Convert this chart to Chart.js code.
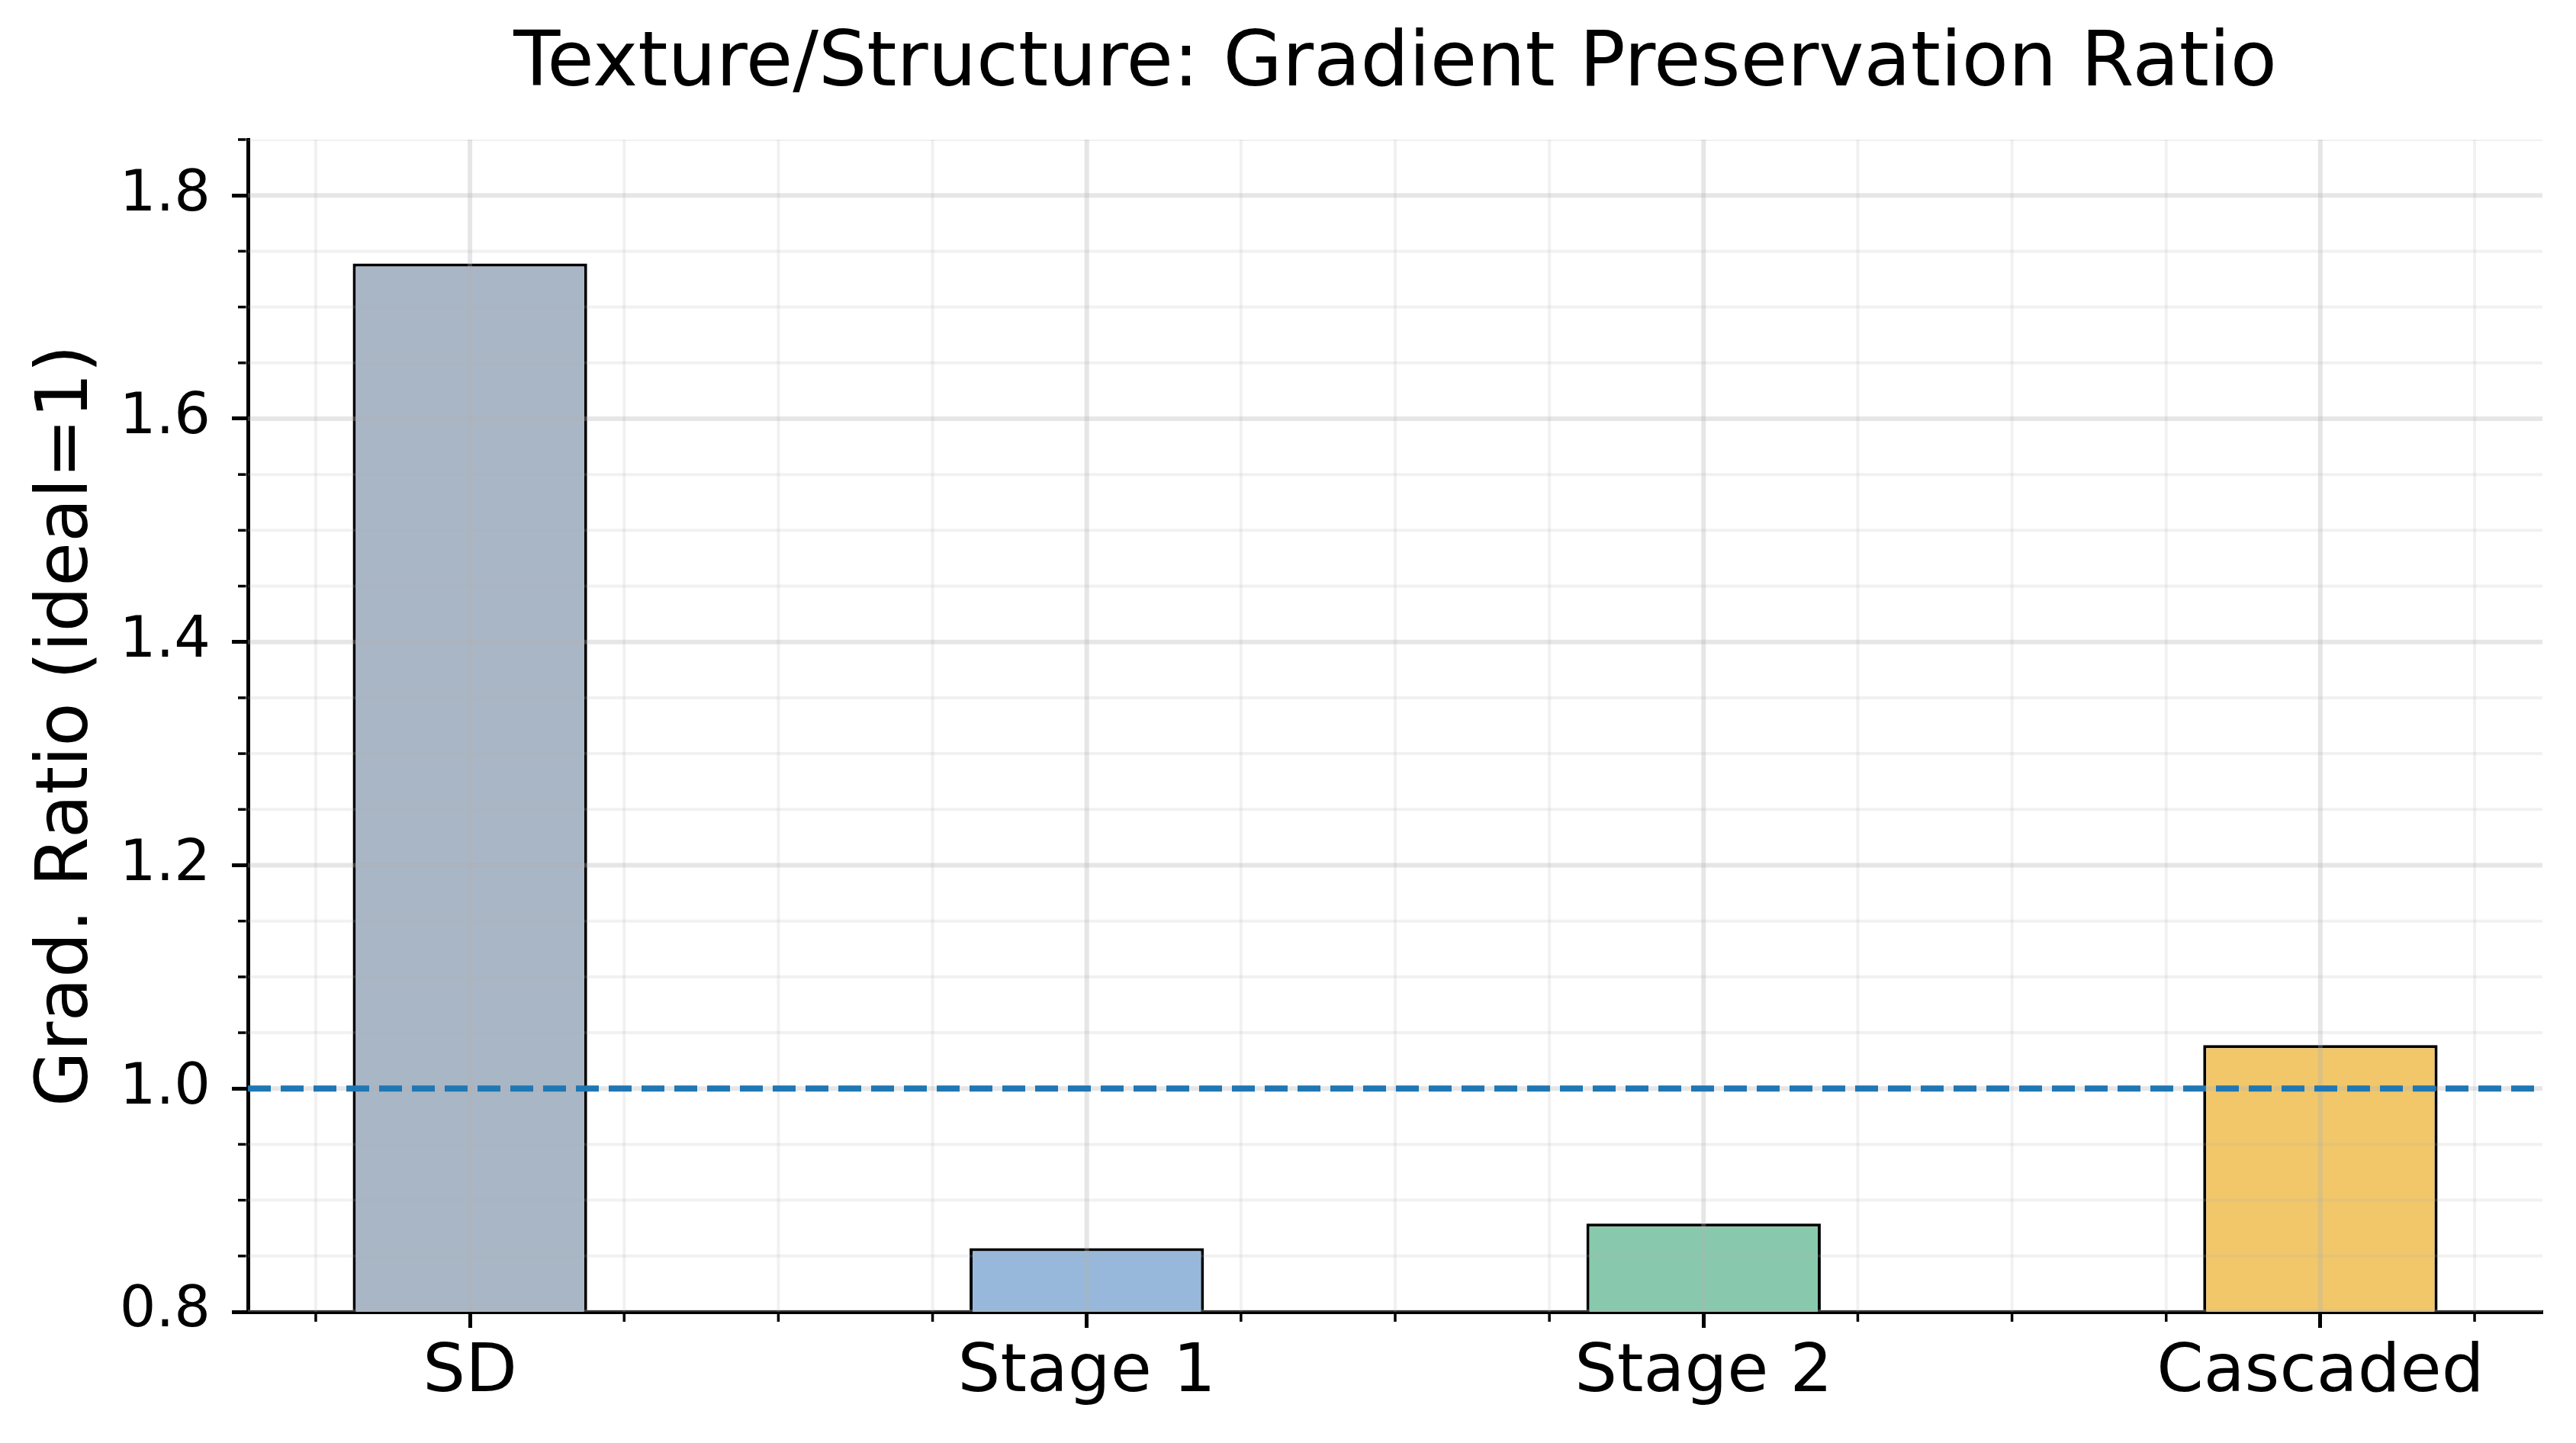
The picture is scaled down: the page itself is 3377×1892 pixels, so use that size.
<!DOCTYPE html>
<html><head><meta charset="utf-8">
<script src="https://cdn.jsdelivr.net/npm/chart.js@4.4.1/dist/chart.umd.min.js"></script>
<style>html,body{margin:0;padding:0;background:#fff;overflow:hidden}canvas{display:block}</style>
</head><body>
<canvas id="c" width="3377" height="1892" style="width:3377px;height:1892px"></canvas>
<script>
// ---- data ----
const categories = ['SD', 'Stage 1', 'Stage 2', 'Cascaded'];
const ratios = [1.739, 0.857, 0.879, 1.039];
const barColors = ['#a9b6c6', '#97b8da', '#88c9ad', '#f1c76a'];
const idealValue = 1.0;
const yTickValues = [0.8, 1.0, 1.2, 1.4, 1.6, 1.8];
const yLimits = [0.8, 1.85];
const xLimits = [-0.36, 3.36];
const xMinorStep = 0.25;
const yMinorStep = 0.05;
const titleText = 'Texture/Structure: Gradient Preservation Ratio';
const yAxisTitle = 'Grad. Ratio (ideal=1)';

// ---- style ----
const FONT = "'DejaVu Sans', sans-serif";
Chart.defaults.font.family = FONT;
Chart.defaults.color = '#000';

function minorValues(lo, hi, step) {
  const out = [];
  const start = Math.ceil(lo / step - 1e-9);
  for (let k = start; k * step <= hi + 1e-9; k++) out.push(+(k * step).toFixed(6));
  return out;
}
const isMajorX = v => Math.abs(v - Math.round(v)) < 1e-6;
const isMajorY = v => yTickValues.some(t => Math.abs(t - v) < 1e-6);

const mplGrid = {
  id: 'mplGrid',
  beforeDatasetDraw(chart, args) {
    if (args.index !== 1) return;
    const {ctx, chartArea: a, scales: {x, y}} = chart;
    ctx.save();
    ctx.beginPath();
    ctx.rect(a.left, a.top, a.right - a.left, a.bottom - a.top);
    ctx.clip();
    const xs = minorValues(xLimits[0], xLimits[1], xMinorStep);
    const ys = minorValues(yLimits[0], yLimits[1], yMinorStep);
    // minor
    ctx.strokeStyle = 'rgba(176,176,176,0.18)';
    ctx.lineWidth = 4;
    xs.filter(v => !isMajorX(v)).forEach(v => {
      const p = x.getPixelForValue(v);
      ctx.beginPath(); ctx.moveTo(p, a.top); ctx.lineTo(p, a.bottom); ctx.stroke();
    });
    ys.filter(v => !isMajorY(v)).forEach(v => {
      const p = y.getPixelForValue(v);
      ctx.beginPath(); ctx.moveTo(a.left, p); ctx.lineTo(a.right, p); ctx.stroke();
    });
    // major
    ctx.strokeStyle = 'rgba(176,176,176,0.32)';
    ctx.lineWidth = 6;
    categories.forEach((c, i) => {
      const p = x.getPixelForValue(i);
      ctx.beginPath(); ctx.moveTo(p, a.top); ctx.lineTo(p, a.bottom); ctx.stroke();
    });
    yTickValues.forEach(v => {
      const p = y.getPixelForValue(v);
      ctx.beginPath(); ctx.moveTo(a.left, p); ctx.lineTo(a.right, p); ctx.stroke();
    });
    ctx.restore();
  },
  afterDraw(chart) {
    const {ctx, chartArea: a, scales: {x, y}} = chart;
    ctx.save();
    ctx.strokeStyle = '#000';
    ctx.lineWidth = 3.5;
    minorValues(xLimits[0], xLimits[1], xMinorStep).filter(v => !isMajorX(v)).forEach(v => {
      const p = x.getPixelForValue(v);
      ctx.beginPath(); ctx.moveTo(p, a.bottom + 2.5); ctx.lineTo(p, a.bottom + 13); ctx.stroke();
    });
    minorValues(yLimits[0], yLimits[1], yMinorStep).filter(v => !isMajorY(v)).forEach(v => {
      const p = y.getPixelForValue(v);
      ctx.beginPath(); ctx.moveTo(a.left - 2.5, p); ctx.lineTo(a.left - 13, p); ctx.stroke();
    });
    ctx.restore();
  }
};

new Chart(document.getElementById('c'), {
  type: 'bar',
  data: {
    datasets: [
      {
        type: 'bar',
        label: 'Grad. Ratio',
        data: ratios.map((v, i) => ({x: i, y: v})),
        backgroundColor: barColors,
        borderColor: '#000',
        borderWidth: 4,
        borderSkipped: false,
        categoryPercentage: 1,
        barPercentage: 0.38,
        order: 2
      },
      {
        type: 'line',
        label: 'ideal',
        data: [{x: xLimits[0], y: idealValue}, {x: xLimits[1], y: idealValue}],
        borderColor: '#1f77b4',
        borderWidth: 8,
        borderDash: [30, 13],
        pointRadius: 0,
        fill: false,
        order: 1
      }
    ]
  },
  options: {
    responsive: false,
    devicePixelRatio: 1,
    animation: false,
    layout: {padding: {left: 0, right: 44, top: 0, bottom: 0}},
    plugins: {
      legend: {display: false},
      tooltip: {enabled: false},
      title: {
        display: true,
        text: titleText,
        fullSize: false,
        color: '#000',
        font: {family: FONT, size: 100, weight: 'normal', lineHeight: 1.2},
        padding: {top: 26, bottom: 37}
      }
    },
    scales: {
      x: {
        type: 'linear',
        min: xLimits[0],
        max: xLimits[1],
        offset: false,
        z: 1,
        afterBuildTicks: s => { s.ticks = categories.map((c, i) => ({value: i})); },
        afterFit: s => { s.height = 172; },
        ticks: {
          autoSkip: false, maxRotation: 0, minRotation: 0,
          padding: 7,
          color: '#000',
          font: {family: FONT, size: 88, lineHeight: 1.2},
          callback: v => categories[Math.round(v)]
        },
        grid: {display: true, drawOnChartArea: false, drawTicks: true, offset: false,
               tickLength: 21, tickWidth: 5, tickColor: '#000'},
        border: {display: true, color: '#000', width: 5}
      },
      y: {
        type: 'linear',
        min: yLimits[0],
        max: yLimits[1],
        beginAtZero: false,
        z: 1,
        afterBuildTicks: s => { s.ticks = yTickValues.map(v => ({value: v})); },
        afterFit: s => { s.width = 325; },
        ticks: {
          padding: 28,
          color: '#000',
          font: {family: FONT, size: 75, lineHeight: 1.2},
          callback: v => Number(v).toFixed(1)
        },
        grid: {display: true, drawOnChartArea: false, drawTicks: true,
               tickLength: 21, tickWidth: 5, tickColor: '#000'},
        border: {display: true, color: '#000', width: 5},
        title: {
          display: true,
          text: yAxisTitle,
          color: '#000',
          font: {family: FONT, size: 94, lineHeight: 1.2},
          padding: {top: 33, bottom: 0}
        }
      }
    }
  },
  plugins: [mplGrid]
});
</script>
</body></html>
